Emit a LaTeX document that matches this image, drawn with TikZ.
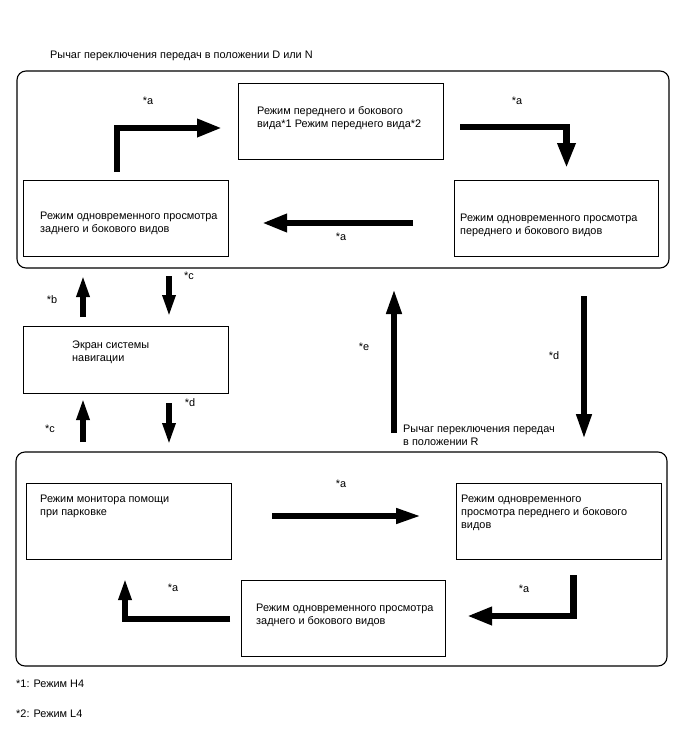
\documentclass[tikz,border=0pt]{standalone}
\usepackage{fontspec}
\setmainfont{Liberation Sans}
\usetikzlibrary{arrows.meta}
\begin{document}
\begin{tikzpicture}[x=1pt,y=-1pt,
  box/.style={draw, line width=0.9pt, inner sep=0pt},
  frame/.style={draw, line width=1.1pt, rounded corners=9pt, inner sep=0pt},
  txt/.style={anchor=west, align=left, inner sep=0pt, font=\fontsize{10.9}{13.2}\selectfont},
  lbl/.style={inner sep=0pt, font=\fontsize{10.9}{13.2}\selectfont},
  bigarrow/.style={line width=6.5pt, line join=miter, -{Triangle[length=25pt,width=17pt]}},
  midarrow/.style={line width=6.5pt, -{Triangle[length=26pt,width=14pt]}},
  smallarrow/.style={line width=6pt, line join=miter, -{Triangle[length=22pt,width=12pt]}},
]
\useasboundingbox (0,0) rectangle (688,755);
\fill[white] (0,0) rectangle (688,755);

% frames
\node[frame, minimum width=652pt, minimum height=197pt] (topframe) at (343,169.5) {};
\node[frame, minimum width=651pt, minimum height=214pt] (botframe) at (341.5,559) {};

% boxes
\node[box, minimum width=205pt, minimum height=76pt] (A) at (340.5,121) {};
\node[box, minimum width=205pt, minimum height=76pt] (B) at (125.5,218) {};
\node[box, minimum width=204pt, minimum height=76pt] (C) at (556,218) {};
\node[box, minimum width=205pt, minimum height=67pt] (N) at (125.5,359.5) {};
\node[box, minimum width=205pt, minimum height=76pt] (D) at (128.5,521) {};
\node[box, minimum width=205pt, minimum height=76pt] (E) at (558.5,521) {};
\node[box, minimum width=204pt, minimum height=76pt] (F) at (343,618) {};

% texts
\node[txt] (title) at (50,56) {Рычаг переключения передач в положении D или N};
\node[txt] (tA) at (257,118) {Режим переднего и бокового\\вида*1 Режим переднего вида*2};
\node[txt] (tB) at (40,223.5) {Режим одновременного просмотра\\заднего и бокового видов};
\node[txt] (tC) at (460,225.5) {Режим одновременного просмотра\\переднего и бокового видов};
\node[txt] (tN) at (72,352) {Экран системы\\навигации};
\node[txt] (tR) at (403,435) {Рычаг переключения передач\\в положении R};
\node[txt] (tD) at (40,506) {Режим монитора помощи\\при парковке};
\node[txt] (tE) at (461,513) {Режим одновременного\\просмотра переднего и бокового\\видов};
\node[txt] (tF) at (256,615) {Режим одновременного просмотра\\заднего и бокового видов};
\node[txt] (fn1) at (16,684) {*1: Режим H4};
\node[txt] (fn2) at (16,714) {*2: Режим L4};

% labels
\node[lbl] (la1) at (148,101) {*a};
\node[lbl] (la2) at (517,101) {*a};
\node[lbl] (la3) at (341,237) {*a};
\node[lbl] (lb) at (52,300) {*b};
\node[lbl] (lc1) at (189,276) {*c};
\node[lbl] (lc2) at (50,429) {*c};
\node[lbl] (ld1) at (190,403) {*d};
\node[lbl] (le) at (364,347) {*e};
\node[lbl] (ld2) at (554,356) {*d};
\node[lbl] (la4) at (341,484) {*a};
\node[lbl] (la5) at (173,588) {*a};
\node[lbl] (la6) at (524,589) {*a};

% arrow end points
\coordinate (p1s) at (117,172);   \coordinate (p1e) at (222,128);
\coordinate (p2s) at (460,127);   \coordinate (p2e) at (566.5,168);
\coordinate (p3s) at (413,223);   \coordinate (p3e) at (262,223);
\coordinate (p4s) at (83,317);    \coordinate (p4e) at (83,275);
\coordinate (p5s) at (169,276);   \coordinate (p5e) at (169,317);
\coordinate (p6s) at (83,442);    \coordinate (p6e) at (83,398);
\coordinate (p7s) at (169,403);   \coordinate (p7e) at (169,445);
\coordinate (p8s) at (394,433);   \coordinate (p8e) at (394,288);
\coordinate (p9s) at (584,296);   \coordinate (p9e) at (584,440);
\coordinate (p10s) at (272,516);  \coordinate (p10e) at (422,516);
\coordinate (p11s) at (573.5,575);\coordinate (p11e) at (467,616);
\coordinate (p12s) at (230,619);  \coordinate (p12e) at (125,578);

% arrows
\draw[bigarrow] (p1s) |- (p1e);
\draw[bigarrow] (p2s) -| (p2e);
\draw[bigarrow] (p3s) -- (p3e);
\draw[smallarrow] (p4s) -- (p4e);
\draw[smallarrow] (p5s) -- (p5e);
\draw[smallarrow] (p6s) -- (p6e);
\draw[smallarrow] (p7s) -- (p7e);
\draw[midarrow] (p8s) -- (p8e);
\draw[midarrow] (p9s) -- (p9e);
\draw[midarrow] (p10s) -- (p10e);
\draw[bigarrow] (p11s) |- (p11e);
\draw[smallarrow] (p12s) -| (p12e);
\end{tikzpicture}
\end{document}
